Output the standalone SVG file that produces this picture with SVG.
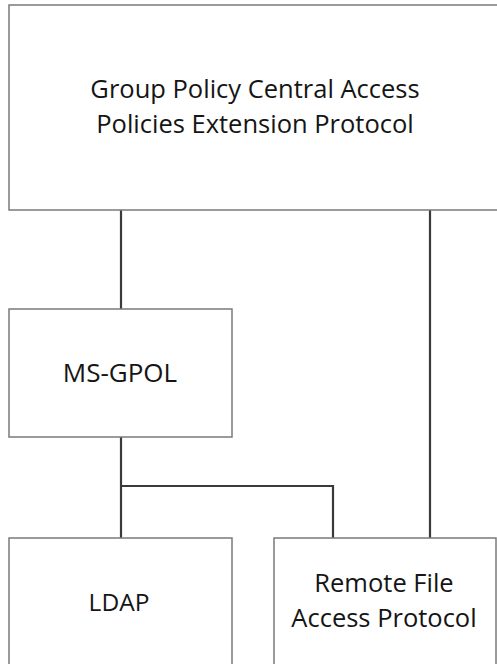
<svg xmlns="http://www.w3.org/2000/svg" width="497" height="664" viewBox="0 0 497 664">
<style>
.box{fill:#fff;stroke:#7a7a7a;stroke-width:1.5}
.conn{fill:none;stroke:#3a3a3a;stroke-width:2.2}
.t{font-family:"Open Sans","Liberation Sans",sans-serif;font-size:25.5px;fill:#151515;text-anchor:middle}
</style>
<rect width="497" height="664" fill="#fff"/>
<g id="connectors">
<line class="conn" x1="121" y1="210" x2="121" y2="309"/>
<line class="conn" x1="430" y1="210" x2="430" y2="538"/>
<polyline class="conn" points="121,437 121,538"/>
<polyline class="conn" points="121,486 333,486 333,538"/>
</g>
<g id="gpcap">
<rect class="box" x="9" y="5" width="495" height="205"/>
<text class="t" x="255" y="98">Group Policy Central Access</text>
<text class="t" x="255" y="133">Policies Extension Protocol</text>
</g>
<g id="msgpol">
<rect class="box" x="9" y="309" width="223" height="128"/>
<text class="t" x="120" y="382" style="font-size:26px">MS-GPOL</text>
</g>
<g id="ldap">
<rect class="box" x="9" y="538" width="223" height="140"/>
<text class="t" x="119" y="611" style="font-size:24.5px">LDAP</text>
</g>
<g id="rfap">
<rect class="box" x="274" y="538" width="222" height="140"/>
<text class="t" x="384" y="592">Remote File</text>
<text class="t" x="384" y="627">Access Protocol</text>
</g>
</svg>
